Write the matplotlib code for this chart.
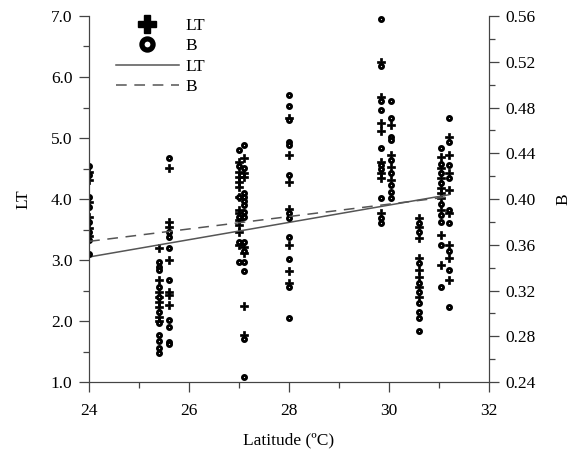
import matplotlib.pyplot as plt
from matplotlib.lines import Line2D
from matplotlib.ticker import MultipleLocator, FormatStrFormatter

plt.rcParams['font.family'] = ['Liberation Serif', 'DejaVu Serif']
plt.rcParams['font.size'] = 12.5

# LT values (left axis) per latitude column
lt_lat = ([24.0] * 6 + [25.4] * 8 + [25.6] * 7 + [27.0] * 12 + [27.1] * 7
          + [28.0] * 7 + [29.85] * 8 + [30.05] * 4 + [30.6] * 8
          + [31.05] * 9 + [31.2] * 8)
lt_vals = [4.44, 4.31, 3.95, 3.70, 3.52, 3.40,
           3.20, 2.67, 2.48, 2.40, 2.31, 2.23, 2.07, 2.00,
           4.51, 3.62, 3.54, 3.00, 2.48, 2.43, 2.26,
           4.61, 4.44, 4.36, 4.28, 4.20, 4.03, 3.82, 3.77, 3.66, 3.57, 3.46, 3.25,
           4.67, 4.43, 4.36, 3.21, 3.11, 2.25, 1.77,
           5.33, 4.72, 4.28, 3.84, 3.25, 2.82, 2.62,
           6.25, 5.67, 5.25, 5.11, 4.61, 4.43, 4.34, 3.77,
           5.21, 4.72, 4.52, 4.31,
           3.69, 3.54, 3.36, 3.03, 2.84, 2.72, 2.56, 2.39,
           4.69, 4.51, 4.34, 4.18, 4.10, 4.02, 3.82, 3.41, 2.92,
           5.02, 4.72, 4.43, 4.15, 3.77, 3.25, 3.03, 2.67]

# B values (right axis)
b_lat = ([24.0] * 8 + [25.4] * 11 + [25.6] * 9 + [27.0] * 6 + [27.1] * 14
         + [28.0] * 12 + [29.85] * 10 + [30.05] * 9 + [30.6] * 9
         + [31.05] * 9 + [31.2] * 9)
b_vals = [0.429, 0.421, 0.402, 0.393, 0.380, 0.371, 0.364, 0.352,
          0.345, 0.341, 0.338, 0.323, 0.314, 0.301, 0.292, 0.281, 0.276, 0.270, 0.265,
          0.436, 0.371, 0.367, 0.357, 0.329, 0.294, 0.288, 0.275, 0.273,
          0.443, 0.429, 0.402, 0.384, 0.362, 0.345,
          0.447, 0.427, 0.405, 0.402, 0.398, 0.395, 0.389, 0.384, 0.362, 0.355,
          0.345, 0.337, 0.278, 0.244,
          0.491, 0.481, 0.469, 0.450, 0.447, 0.421, 0.388, 0.383, 0.367, 0.348,
          0.323, 0.296,
          0.557, 0.516, 0.486, 0.478, 0.445, 0.430, 0.426, 0.401, 0.383, 0.379,
          0.486, 0.471, 0.454, 0.452, 0.434, 0.423, 0.412, 0.406, 0.401,
          0.379, 0.371, 0.344, 0.327, 0.319, 0.309, 0.301, 0.296, 0.285,
          0.445, 0.431, 0.423, 0.414, 0.396, 0.386, 0.380, 0.360, 0.323,
          0.471, 0.450, 0.430, 0.418, 0.390, 0.379, 0.355, 0.338, 0.306]

# fitted trend lines (end points)
fit_lat = [24.0, 31.2]
lt_fit = [3.05, 4.07]
b_fit = [0.363, 0.402]

fig = plt.figure(figsize=(5.75, 4.57), dpi=100)
ax = fig.add_axes([0.155, 0.164, 0.695, 0.801])
ax2 = ax.twinx()

ax.plot(lt_lat, lt_vals, linestyle='none', marker='P', ms=5.2, color='black',
        mec='black', mew=0.5)
ax.plot(fit_lat, lt_fit, color='#555555', lw=1.1)

ax2.plot(b_lat, b_vals, linestyle='none', marker='o', ms=3.0, mfc='#dddddd',
         mec='black', mew=2.0)
ax2.plot(fit_lat, b_fit, color='#555555', lw=1.1, dashes=(7, 5))

ax.set_xlim(24, 32)
ax.set_ylim(1.0, 7.0)
ax2.set_ylim(0.24, 0.56)

ax.xaxis.set_major_locator(MultipleLocator(2))
ax.xaxis.set_minor_locator(MultipleLocator(1))
ax.yaxis.set_major_locator(MultipleLocator(1))
ax.yaxis.set_minor_locator(MultipleLocator(0.5))
ax.yaxis.set_major_formatter(FormatStrFormatter('%.1f'))
ax2.yaxis.set_major_locator(MultipleLocator(0.04))
ax2.yaxis.set_minor_locator(MultipleLocator(0.02))
ax2.yaxis.set_major_formatter(FormatStrFormatter('%.2f'))

for a in (ax, ax2):
    a.spines['top'].set_visible(False)
    for s in a.spines.values():
        s.set_color('#444444')
    a.tick_params(which='major', length=7, width=0.9, color='#444444', pad=5)
    a.tick_params(which='minor', length=4, width=0.9, color='#444444')
ax.tick_params(axis='x', pad=8)

ax.set_xlabel('Latitude (ºC)', labelpad=10)
ax.set_ylabel('LT', labelpad=14)
ax2.set_ylabel('B', labelpad=14, rotation=90)

handles = [
    Line2D([], [], linestyle='none', marker='P', ms=13, color='black'),
    Line2D([], [], linestyle='none', marker='o', ms=8, mfc='white',
           mec='black', mew=3.8),
    Line2D([], [], color='#555555', lw=1.1),
    Line2D([], [], color='#555555', lw=1.1, dashes=(7, 5)),
]
ax.legend(handles, ['LT', 'B', 'LT', 'B'], loc='upper left',
          bbox_to_anchor=(0.05, 1.015), frameon=False, handlelength=3.6,
          handletextpad=0.4, labelspacing=0.25, borderaxespad=0)

fig.savefig('out.png', dpi=100)
